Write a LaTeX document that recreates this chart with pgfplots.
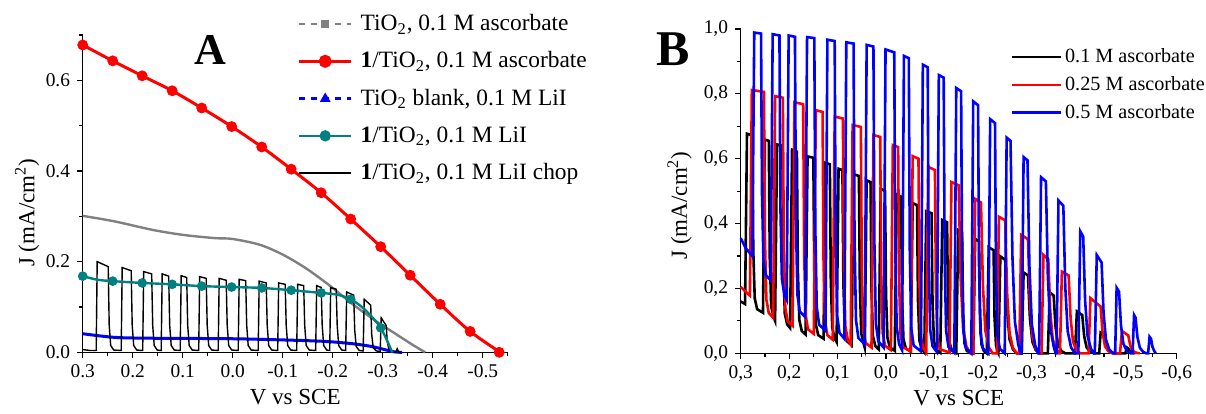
\documentclass[border=0pt]{standalone}
\usepackage{fontspec}
\setmainfont{Liberation Serif}
\usepackage{pgfplots}
\pgfplotsset{compat=1.18}
\definecolor{tealc}{RGB}{0,128,128}
\definecolor{grayc}{RGB}{128,128,128}
\pgfplotsset{
  common/.style={
    scale only axis, anchor=south west, clip=false,
    x dir=reverse,
    axis x line*=bottom, axis y line*=left,
    axis line style={line width=0.7pt},
    tick align=outside,
    major tick length=2.8pt, minor tick length=1.6pt,
    every tick/.style={black, line width=0.6pt},
    ticklabel style={font=\fontsize{9.7}{11}\selectfont},
    label style={font=\fontsize{11.5}{13}\selectfont},
    legend cell align=left,
  }
}
\begin{document}
\begin{tikzpicture}
\path[use as bounding box] (0,0) rectangle (603pt,206.5pt);
% ---------------- Panel A ----------------
\begin{axis}[common,
  at={(41.35pt,30.35pt)}, width=212.5pt, height=158.65pt,
  xmin=-0.55, xmax=0.3, ymin=0, ymax=0.7,
  xtick={-0.5,-0.4,-0.3,-0.2,-0.1,0,0.1,0.2,0.3},
  xticklabels={-0.5,-0.4,-0.3,-0.2,-0.1,0.0,0.1,0.2,0.3},
  minor xtick={-0.55,-0.45,-0.35,-0.25,-0.15,-0.05,0.05,0.15,0.25},
  ytick={0,0.2,0.4,0.6}, yticklabels={0.0,0.2,0.4,0.6},
  minor ytick={0.1,0.3,0.5,0.7},
  xlabel={V vs SCE}, ylabel={J (mA/cm\textsuperscript{2})},
  xlabel style={at={(axis description cs:0.5,-0.14)}, anchor=center},
  ylabel style={at={(axis description cs:-0.131,0.44)}, anchor=center},
  legend image code/.code={\draw[mark repeat=2,mark phase=2,#1] plot coordinates {(0pt,0pt) (13pt,0pt) (26pt,0pt)}; \path (29pt,0pt);},
  legend style={at={(0.505,1.073)}, anchor=north west, draw=none, fill=none,
    font=\fontsize{11.7}{13.5}\selectfont, row sep=7.1pt, inner sep=0pt,
    nodes={inner sep=1pt}},
]
% gray TiO2 ascorbate
\addplot[grayc, line width=1.2pt, smooth, forget plot] coordinates {
(0.300,0.301) (0.237,0.289) (0.160,0.270) (0.099,0.259) (0.037,0.252) (0.000,0.250)
(-0.055,0.237) (-0.101,0.215) (-0.147,0.185) (-0.193,0.148) (-0.239,0.107)
(-0.285,0.070) (-0.331,0.037) (-0.362,0.015) (-0.385,0.000)};
% red line
\addplot[red, line width=1.5pt, smooth, forget plot] coordinates {
(0.300,0.678) (0.240,0.643) (0.181,0.610) (0.121,0.577) (0.062,0.539) (0.002,0.498)
(-0.058,0.453) (-0.117,0.404) (-0.177,0.352) (-0.236,0.294) (-0.296,0.233)
(-0.355,0.170) (-0.415,0.106) (-0.475,0.046) (-0.535,0.000)};
\addplot[red, only marks, mark=*, mark size=2.5pt, forget plot] coordinates {
(0.300,0.678) (0.240,0.643) (0.181,0.610) (0.121,0.577) (0.062,0.539) (0.002,0.498)
(-0.058,0.453) (-0.117,0.404) (-0.177,0.352) (-0.236,0.294) (-0.296,0.233)
(-0.355,0.170) (-0.415,0.106) (-0.475,0.046) (-0.533,0.000)};
% blue blank LiI
\addplot[blue, line width=1.5pt, smooth, forget plot] coordinates {
(0.300,0.041) (0.237,0.033) (0.160,0.031) (0.006,0.030) (-0.109,0.027) (-0.185,0.024)
(-0.239,0.019) (-0.277,0.013) (-0.300,0.007) (-0.323,0.001) (-0.339,0.000)};
% black chop
\addplot[black, line width=0.7pt, forget plot] coordinates {
(0.300,0.006) (0.285,0.004) (0.273,0.004)
(0.271,0.200) (0.249,0.189) (0.247,0.06) (0.244,0.015) (0.238,0.005) (0.223,0.004)
(0.221,0.187) (0.203,0.180) (0.201,0.06) (0.198,0.015) (0.192,0.005) (0.180,0.004)
(0.178,0.178) (0.162,0.173) (0.160,0.06) (0.157,0.015) (0.151,0.005) (0.143,0.004)
(0.141,0.173) (0.128,0.168) (0.126,0.06) (0.123,0.015) (0.117,0.005) (0.105,0.004)
(0.103,0.169) (0.092,0.165) (0.090,0.06) (0.087,0.015) (0.081,0.005) (0.068,0.004)
(0.066,0.167) (0.053,0.163) (0.051,0.06) (0.048,0.015) (0.042,0.005) (0.029,0.004)
(0.027,0.163) (0.013,0.159) (0.011,0.06) (0.008,0.015) (0.002,0.005) (-0.011,0.004)
(-0.013,0.161) (-0.026,0.158) (-0.028,0.06) (-0.031,0.015) (-0.037,0.005) (-0.051,0.004)
(-0.053,0.157) (-0.067,0.153) (-0.069,0.06) (-0.072,0.015) (-0.078,0.005) (-0.090,0.004)
(-0.092,0.153) (-0.105,0.150) (-0.107,0.06) (-0.110,0.015) (-0.116,0.005) (-0.128,0.004)
(-0.130,0.150) (-0.142,0.147) (-0.144,0.06) (-0.147,0.015) (-0.153,0.005) (-0.166,0.004)
(-0.168,0.147) (-0.177,0.143) (-0.179,0.06) (-0.182,0.015) (-0.188,0.005) (-0.194,0.004)
(-0.196,0.143) (-0.207,0.139) (-0.209,0.06) (-0.212,0.015) (-0.218,0.005) (-0.226,0.004)
(-0.228,0.133) (-0.242,0.126) (-0.244,0.05) (-0.247,0.013) (-0.253,0.004) (-0.261,0.003)
(-0.263,0.117) (-0.276,0.104) (-0.278,0.04) (-0.281,0.010) (-0.287,0.003) (-0.295,0.002)
(-0.297,0.076) (-0.307,0.059) (-0.309,0.025) (-0.312,0.008) (-0.318,0.002) (-0.326,0.000)
(-0.329,0.008) (-0.332,0.000) (-0.336,0.000)};
% teal 1/TiO2 LiI
\addplot[tealc, line width=1.2pt, smooth, forget plot] coordinates {
(0.300,0.168) (0.270,0.160) (0.240,0.157) (0.181,0.153) (0.121,0.150) (0.062,0.146)
(0.002,0.144) (-0.058,0.142) (-0.117,0.137) (-0.177,0.131) (-0.210,0.127) (-0.236,0.117)
(-0.255,0.103) (-0.270,0.088) (-0.285,0.070) (-0.296,0.054) (-0.305,0.035)
(-0.312,0.018) (-0.318,0.003) (-0.320,0.000)};
\addplot[tealc, only marks, mark=*, mark size=2.2pt, forget plot] coordinates {
(0.300,0.168) (0.240,0.157) (0.181,0.153) (0.121,0.150) (0.062,0.146) (0.002,0.144)
(-0.058,0.142) (-0.117,0.137) (-0.177,0.131) (-0.236,0.117) (-0.296,0.054)};
% legend
\addlegendimage{grayc, line width=1.2pt, dashed, mark=square*, mark size=1.3pt, mark options={solid}}
\addlegendentry{TiO\textsubscript{2}, 0.1 M ascorbate}
\addlegendimage{red, line width=1.5pt, mark=*, mark size=2.5pt}
\addlegendentry{\textbf{1}/TiO\textsubscript{2}, 0.1 M ascorbate}
\addlegendimage{blue, line width=1.5pt, dashed, mark=triangle*, mark size=1.6pt, mark options={solid}}
\addlegendentry{TiO\textsubscript{2} blank, 0.1 M LiI}
\addlegendimage{tealc, line width=1.2pt, mark=*, mark size=2.2pt}
\addlegendentry{\textbf{1}/TiO\textsubscript{2}, 0.1 M LiI}
\addlegendimage{black, line width=0.7pt}
\addlegendentry{\textbf{1}/TiO\textsubscript{2}, 0.1 M LiI chop}
\node[font=\fontsize{22}{24}\selectfont\bfseries] at (axis description cs:0.30,0.953) {A};
\end{axis}
% ---------------- Panel B ----------------
\begin{axis}[common,
  at={(370.35pt,29.85pt)}, width=218pt, height=162.15pt,
  xmin=-0.6, xmax=0.3, ymin=0, ymax=1.0,
  xtick={-0.6,-0.5,-0.4,-0.3,-0.2,-0.1,0,0.1,0.2,0.3},
  xticklabels={{-0,6},{-0,5},{-0,4},{-0,3},{-0,2},{-0,1},{0,0},{0,1},{0,2},{0,3}},
  minor xtick={-0.55,-0.45,-0.35,-0.25,-0.15,-0.05,0.05,0.15,0.25},
  ytick={0,0.2,0.4,0.6,0.8,1.0}, yticklabels={{0,0},{0,2},{0,4},{0,6},{0,8},{1,0}},
  minor ytick={0.1,0.3,0.5,0.7,0.9},
  xlabel={V vs SCE}, ylabel={J (mA/cm\textsuperscript{2})},
  xlabel style={at={(axis description cs:0.5,-0.138)}, anchor=center},
  ylabel style={at={(axis description cs:-0.14,0.456)}, anchor=center},
  legend image code/.code={\draw[#1] (0pt,0pt) -- (24.5pt,0pt); \path (25pt,0pt);},
  legend style={at={(0.618,0.947)}, anchor=north west, draw=none, fill=none,
    font=\fontsize{10.1}{12.1}\selectfont, row sep=3.4pt, inner sep=0pt,
    nodes={inner sep=1pt}},
]
\addplot[black, line width=1.3pt] coordinates {
(0.300,0.160) (0.291,0.152)
(0.287,0.677) (0.276,0.672) (0.274,0.316) (0.271,0.169) (0.266,0.136) (0.254,0.125)
(0.250,0.659) (0.242,0.655) (0.240,0.294) (0.237,0.144) (0.232,0.111) (0.229,0.100)
(0.225,0.644) (0.214,0.640) (0.212,0.275) (0.209,0.123) (0.204,0.089) (0.198,0.078)
(0.194,0.628) (0.184,0.622) (0.182,0.255) (0.179,0.103) (0.174,0.069) (0.166,0.058)
(0.162,0.607) (0.150,0.603) (0.148,0.240) (0.145,0.090) (0.140,0.056) (0.129,0.045)
(0.125,0.587) (0.116,0.583) (0.114,0.227) (0.111,0.079) (0.106,0.046) (0.102,0.035)
(0.098,0.569) (0.090,0.565) (0.088,0.214) (0.085,0.068) (0.080,0.036) (0.071,0.025)
(0.067,0.552) (0.056,0.547) (0.054,0.203) (0.051,0.060) (0.046,0.029) (0.044,0.018)
(0.040,0.533) (0.032,0.528) (0.030,0.193) (0.027,0.053) (0.022,0.022) (0.015,0.012)
(0.011,0.507) (0.002,0.500) (0.000,0.180) (-0.003,0.047) (-0.008,0.018) (-0.018,0.008)
(-0.022,0.490) (-0.031,0.483) (-0.033,0.172) (-0.036,0.043) (-0.041,0.015) (-0.051,0.005)
(-0.055,0.463) (-0.064,0.457) (-0.066,0.162) (-0.069,0.039) (-0.074,0.012) (-0.079,0.003)
(-0.083,0.438) (-0.094,0.432) (-0.096,0.153) (-0.099,0.036) (-0.104,0.011) (-0.112,0.002)
(-0.116,0.411) (-0.126,0.404) (-0.128,0.142) (-0.131,0.033) (-0.136,0.009) (-0.145,0.001)
(-0.149,0.380) (-0.157,0.372) (-0.159,0.130) (-0.162,0.030) (-0.167,0.007) (-0.180,0.000)
(-0.184,0.353) (-0.192,0.345) (-0.194,0.121) (-0.197,0.028) (-0.202,0.007) (-0.208,0.000)
(-0.212,0.327) (-0.222,0.318) (-0.224,0.111) (-0.227,0.025) (-0.230,0.006) (-0.232,0.000)
(-0.236,0.299) (-0.246,0.288) (-0.250,0.130) (-0.255,0.043) (-0.262,0.012) (-0.270,0.000) (-0.280,0.000)
(-0.284,0.249) (-0.293,0.240) (-0.297,0.108) (-0.302,0.036) (-0.309,0.010) (-0.317,0.000) (-0.334,0.000)
(-0.338,0.188) (-0.346,0.178) (-0.350,0.080) (-0.355,0.027) (-0.362,0.007) (-0.370,0.000) (-0.390,0.000)
(-0.394,0.129) (-0.405,0.118) (-0.409,0.053) (-0.414,0.018) (-0.421,0.005) (-0.429,0.000) (-0.440,0.000)
(-0.443,0.064) (-0.450,0.058) (-0.454,0.026) (-0.459,0.009) (-0.466,0.002) (-0.474,0.000) (-0.494,0.000)
(-0.497,0.018) (-0.500,0.015) (-0.504,0.007) (-0.509,0.002) (-0.515,0.000)};
\addlegendentry{0.1 M ascorbate}
\addplot[red, line width=1.3pt] coordinates {
(0.300,0.205) (0.290,0.190) (0.281,0.178)
(0.277,0.812) (0.252,0.806) (0.250,0.354) (0.247,0.166) (0.242,0.124) (0.233,0.110)
(0.229,0.793) (0.213,0.788) (0.211,0.331) (0.208,0.141) (0.203,0.099) (0.193,0.085)
(0.189,0.774) (0.171,0.768) (0.169,0.308) (0.166,0.117) (0.161,0.074) (0.149,0.060)
(0.145,0.750) (0.131,0.744) (0.129,0.288) (0.126,0.098) (0.121,0.056) (0.110,0.042)
(0.106,0.730) (0.089,0.724) (0.087,0.272) (0.084,0.084) (0.079,0.042) (0.073,0.028)
(0.069,0.704) (0.052,0.698) (0.050,0.256) (0.047,0.072) (0.042,0.032) (0.030,0.018)
(0.026,0.673) (0.012,0.667) (0.010,0.240) (0.007,0.063) (0.002,0.023) (-0.010,0.010)
(-0.014,0.642) (-0.025,0.636) (-0.027,0.227) (-0.030,0.056) (-0.035,0.019) (-0.051,0.006)
(-0.055,0.608) (-0.067,0.600) (-0.069,0.212) (-0.072,0.051) (-0.077,0.015) (-0.083,0.003)
(-0.087,0.575) (-0.101,0.565) (-0.103,0.199) (-0.106,0.047) (-0.111,0.013) (-0.131,0.002)
(-0.135,0.528) (-0.150,0.518) (-0.154,0.233) (-0.159,0.078) (-0.166,0.021) (-0.174,0.000) (-0.180,0.000)
(-0.184,0.476) (-0.196,0.465) (-0.200,0.209) (-0.205,0.070) (-0.212,0.019) (-0.220,0.000) (-0.229,0.000)
(-0.233,0.421) (-0.246,0.410) (-0.250,0.185) (-0.255,0.062) (-0.262,0.016) (-0.270,0.000) (-0.275,0.000)
(-0.279,0.365) (-0.293,0.352) (-0.297,0.158) (-0.302,0.053) (-0.309,0.014) (-0.317,0.000) (-0.321,0.000)
(-0.325,0.303) (-0.335,0.290) (-0.339,0.131) (-0.344,0.044) (-0.351,0.012) (-0.357,0.000) (-0.359,0.000)
(-0.363,0.252) (-0.377,0.240) (-0.381,0.108) (-0.386,0.036) (-0.393,0.010) (-0.401,0.000) (-0.418,0.000)
(-0.422,0.170) (-0.443,0.144) (-0.447,0.065) (-0.452,0.022) (-0.459,0.006) (-0.467,0.000) (-0.483,0.000)
(-0.487,0.069) (-0.500,0.055) (-0.504,0.025) (-0.509,0.008) (-0.516,0.002) (-0.524,0.000)};
\addlegendentry{0.25 M ascorbate}
\addplot[blue, line width=1.3pt] coordinates {
(0.300,0.355) (0.290,0.325) (0.276,0.300)
(0.272,0.989) (0.258,0.986) (0.256,0.491) (0.253,0.286) (0.248,0.240) (0.238,0.225)
(0.234,0.984) (0.220,0.980) (0.218,0.450) (0.215,0.230) (0.210,0.181) (0.205,0.165)
(0.201,0.980) (0.188,0.976) (0.186,0.414) (0.183,0.181) (0.178,0.129) (0.167,0.112)
(0.163,0.975) (0.148,0.972) (0.146,0.386) (0.143,0.142) (0.138,0.088) (0.125,0.070)
(0.121,0.967) (0.106,0.963) (0.104,0.366) (0.101,0.118) (0.096,0.063) (0.086,0.045)
(0.082,0.959) (0.067,0.955) (0.065,0.352) (0.062,0.102) (0.057,0.047) (0.044,0.028)
(0.040,0.951) (0.026,0.946) (0.024,0.343) (0.021,0.092) (0.016,0.037) (0.005,0.018)
(0.001,0.937) (-0.017,0.928) (-0.019,0.331) (-0.022,0.083) (-0.027,0.028) (-0.033,0.010)
(-0.037,0.917) (-0.047,0.910) (-0.049,0.322) (-0.052,0.078) (-0.057,0.024) (-0.072,0.006)
(-0.076,0.890) (-0.086,0.882) (-0.088,0.311) (-0.091,0.074) (-0.096,0.022) (-0.105,0.004)
(-0.109,0.858) (-0.119,0.850) (-0.121,0.299) (-0.124,0.070) (-0.129,0.019) (-0.141,0.002)
(-0.145,0.818) (-0.155,0.808) (-0.157,0.283) (-0.160,0.065) (-0.165,0.016) (-0.176,0.000)
(-0.180,0.777) (-0.190,0.765) (-0.192,0.268) (-0.195,0.061) (-0.200,0.015) (-0.211,0.000)
(-0.215,0.722) (-0.225,0.710) (-0.227,0.249) (-0.230,0.057) (-0.235,0.014) (-0.245,0.000)
(-0.249,0.665) (-0.257,0.655) (-0.261,0.295) (-0.266,0.098) (-0.273,0.026) (-0.278,0.000) (-0.280,0.000)
(-0.284,0.605) (-0.292,0.595) (-0.296,0.268) (-0.301,0.089) (-0.308,0.024) (-0.314,0.000) (-0.316,0.000)
(-0.320,0.543) (-0.330,0.530) (-0.334,0.239) (-0.339,0.080) (-0.346,0.021) (-0.350,0.000) (-0.352,0.000)
(-0.356,0.471) (-0.366,0.455) (-0.370,0.205) (-0.375,0.068) (-0.382,0.018) (-0.390,0.000) (-0.397,0.000)
(-0.401,0.376) (-0.407,0.360) (-0.411,0.162) (-0.416,0.054) (-0.423,0.014) (-0.429,0.000) (-0.431,0.000)
(-0.435,0.303) (-0.445,0.280) (-0.449,0.126) (-0.454,0.042) (-0.461,0.011) (-0.469,0.000) (-0.473,0.000)
(-0.476,0.202) (-0.481,0.190) (-0.485,0.086) (-0.490,0.029) (-0.497,0.008) (-0.505,0.000) (-0.509,0.000)
(-0.512,0.118) (-0.515,0.110) (-0.519,0.050) (-0.524,0.017) (-0.531,0.004) (-0.537,0.000) (-0.541,0.000)
(-0.544,0.051) (-0.547,0.045) (-0.550,0.020) (-0.554,0.006) (-0.557,0.000)};
\addlegendentry{0.5 M ascorbate}
\node[font=\fontsize{25}{27}\selectfont\bfseries] at (axis description cs:-0.155,0.937) {B};
\end{axis}
\end{tikzpicture}
\end{document}
